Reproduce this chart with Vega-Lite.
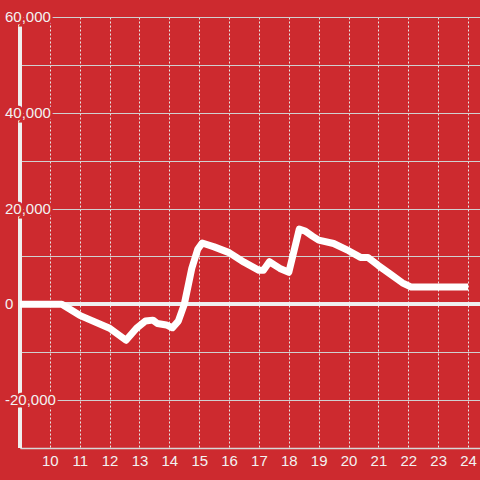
{
  "$schema": "https://vega.github.io/schema/vega-lite/v6.json",
  "autosize": {"type": "none"},
  "padding": {"left": 20, "top": 17, "right": 0, "bottom": 32},
  "width": 460,
  "height": 431,
  "background": "#cd2a2f",
  "config": {
    "view": {"stroke": null},
    "font": "Liberation Sans",
    "axis": {"labelFont": "Liberation Sans", "labelFontSize": 15, "labelColor": "#f2f2f2"},
    "axisX": {
      "title": null,
      "ticks": false,
      "labelPadding": 5,
      "domainColor": "#d8d8d8",
      "domainWidth": 1.5,
      "grid": true,
      "gridColor": "#e6e6e6",
      "gridDash": [2, 2],
      "gridWidth": 1,
      "gridOpacity": 1
    },
    "axisY": {
      "title": null,
      "labels": false,
      "ticks": false,
      "domain": false,
      "grid": true,
      "gridColor": "#d0d0d0",
      "gridWidth": 1,
      "gridOpacity": 1
    }
  },
  "datasets": {
    "series": [
      {"hour": 9.0, "value": 0},
      {"hour": 10.4, "value": 0},
      {"hour": 11.0, "value": -2300},
      {"hour": 12.0, "value": -5000},
      {"hour": 12.55, "value": -7500},
      {"hour": 12.9, "value": -5000},
      {"hour": 13.2, "value": -3500},
      {"hour": 13.45, "value": -3300},
      {"hour": 13.6, "value": -4000},
      {"hour": 13.9, "value": -4300},
      {"hour": 14.1, "value": -4900},
      {"hour": 14.3, "value": -3500},
      {"hour": 14.5, "value": 0},
      {"hour": 14.75, "value": 7500},
      {"hour": 14.95, "value": 11500},
      {"hour": 15.1, "value": 12800},
      {"hour": 15.5, "value": 12000},
      {"hour": 16.0, "value": 10800},
      {"hour": 16.5, "value": 8800},
      {"hour": 17.0, "value": 7100},
      {"hour": 17.15, "value": 7100},
      {"hour": 17.35, "value": 8900},
      {"hour": 17.7, "value": 7500},
      {"hour": 18.0, "value": 6700},
      {"hour": 18.35, "value": 15700},
      {"hour": 18.55, "value": 15300},
      {"hour": 18.8, "value": 14200},
      {"hour": 19.0, "value": 13400},
      {"hour": 19.5, "value": 12700},
      {"hour": 20.0, "value": 11200},
      {"hour": 20.4, "value": 9800},
      {"hour": 20.65, "value": 9800},
      {"hour": 21.0, "value": 8100},
      {"hour": 21.4, "value": 6300},
      {"hour": 21.8, "value": 4500},
      {"hour": 22.1, "value": 3600},
      {"hour": 24.0, "value": 3600}
    ],
    "ylabels": [
      {"v": 60000, "label": "60,000"},
      {"v": 40000, "label": "40,000"},
      {"v": 20000, "label": "20,000"},
      {"v": 0, "label": "0"},
      {"v": -20000, "label": "-20,000"}
    ]
  },
  "layer": [
    {
      "data": {"name": "series"},
      "mark": {"type": "rule", "color": "#f0f0f0", "strokeWidth": 3},
      "encoding": {
        "x": {"datum": 9, "type": "quantitative", "axis": {"values": [10, 11, 12, 13, 14, 15, 16, 17, 18, 19, 20, 21, 22, 23, 24], "format": "d"}},
        "y": {"datum": -30000, "type": "quantitative", "axis": {"values": [-30000, -20000, -10000, 0, 10000, 20000, 30000, 40000, 50000, 60000]}},
        "y2": {"datum": 60000}
      }
    },
    {
      "data": {"name": "series"},
      "mark": {"type": "rule", "color": "#f0f0f0", "strokeWidth": 3},
      "encoding": {
        "x": {"datum": 9, "type": "quantitative", "axis": {"values": [10, 11, 12, 13, 14, 15, 16, 17, 18, 19, 20, 21, 22, 23, 24], "format": "d"}},
        "x2": {"datum": 24.4},
        "y": {"datum": 0, "type": "quantitative", "axis": {"values": [-30000, -20000, -10000, 0, 10000, 20000, 30000, 40000, 50000, 60000]}}
      }
    },
    {
      "data": {"name": "ylabels"},
      "mark": {"type": "text", "align": "left", "baseline": "middle", "dx": -15, "fontSize": 15, "font": "Liberation Sans", "fill": "#cd2a2f", "stroke": "#cd2a2f", "strokeWidth": 5},
      "encoding": {
        "x": {"datum": 9, "type": "quantitative", "axis": {"values": [10, 11, 12, 13, 14, 15, 16, 17, 18, 19, 20, 21, 22, 23, 24], "format": "d"}},
        "y": {"field": "v", "type": "quantitative", "axis": {"values": [-30000, -20000, -10000, 0, 10000, 20000, 30000, 40000, 50000, 60000]}},
        "text": {"field": "label"}
      }
    },
    {
      "data": {"name": "ylabels"},
      "mark": {"type": "text", "align": "left", "baseline": "middle", "dx": -15, "fontSize": 15, "font": "Liberation Sans", "fill": "#f2f2f2"},
      "encoding": {
        "x": {"datum": 9, "type": "quantitative", "axis": {"values": [10, 11, 12, 13, 14, 15, 16, 17, 18, 19, 20, 21, 22, 23, 24], "format": "d"}},
        "y": {"field": "v", "type": "quantitative", "axis": {"values": [-30000, -20000, -10000, 0, 10000, 20000, 30000, 40000, 50000, 60000]}},
        "text": {"field": "label"}
      }
    },
    {
      "data": {"name": "series"},
      "mark": {"type": "line", "color": "#ffffff", "strokeWidth": 7, "strokeJoin": "round"},
      "encoding": {
        "x": {
          "field": "hour", "type": "quantitative",
          "scale": {"domain": [9, 24.4], "nice": false, "zero": false},
          "axis": {"values": [10, 11, 12, 13, 14, 15, 16, 17, 18, 19, 20, 21, 22, 23, 24], "format": "d"}
        },
        "y": {
          "field": "value", "type": "quantitative",
          "scale": {"domain": [-30000, 60000], "nice": false, "zero": false},
          "axis": {"values": [-30000, -20000, -10000, 0, 10000, 20000, 30000, 40000, 50000, 60000]}
        }
      }
    }
  ]
}
